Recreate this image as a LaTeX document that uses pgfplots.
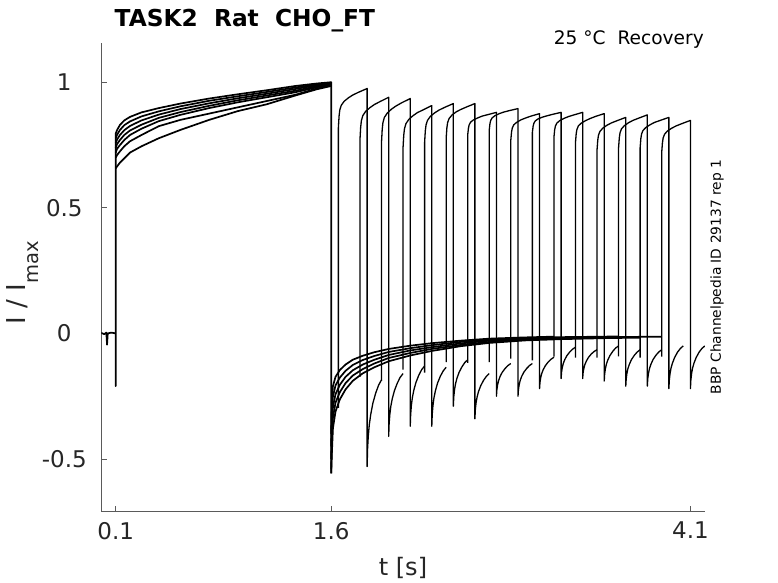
\documentclass[border=0pt]{standalone}
\usepackage{fontspec}
\setmainfont{DejaVu Sans}
\usepackage{pgfplots}
\pgfplotsset{compat=1.18}
\definecolor{axgray}{HTML}{5A5A5A}
\definecolor{txt}{HTML}{262626}
\begin{document}
\begin{tikzpicture}
\path[use as bounding box] (0,0) rectangle (778bp,583bp);
\begin{axis}[
 at={(101.3bp,71.3bp)}, anchor=south west,
 width=603.5bp, height=468.4bp, scale only axis,
 xmin=0, xmax=4.2, ymin=-0.71, ymax=1.155,
 axis x line*=bottom, axis y line*=left,
 axis line style={draw=axgray, line width=0.8bp},
 tick align=inside, major tick length=6bp,
 tick style={draw=axgray, line width=0.8bp},
 xtick={0.1,1.6,4.1}, xticklabels={0.1,1.6,4.1},
 ytick={-0.5,0,0.5,1}, yticklabels={-0.5,0,0.5,1},
 ticklabel style={font=\fontsize{23bp}{27bp}\selectfont, text=txt},
 xticklabel style={yshift=-7bp},
 yticklabel style={anchor=center, xshift=-37bp},
 tr/.style={black, line width=1.3bp, line join=round, mark=none},
 bd/.style={black, line width=1.7bp, line join=round, mark=none},
]
% ---- pulse 1 (conditioning) ----
\addplot[bd] coordinates {(0,0.002) (0.02,-0.003) (0.035,0.003) (0.04,-0.045) (0.045,0.0) (0.07,0.003) (0.1,0) (0.1,-0.21) (0.1,0.795) (0.11,0.81) (0.13,0.83) (0.16,0.848) (0.2,0.862) (0.28,0.88) (0.4,0.897) (0.55,0.915) (0.75,0.935) (0.95,0.952) (1.15,0.968) (1.35,0.985) (1.5,0.995) (1.6,1.0) (1.6,-0.557)};
\addplot[bd] coordinates {(0.1,0.776) (0.11,0.791) (0.13,0.81) (0.16,0.829) (0.2,0.844) (0.28,0.864) (0.4,0.884) (0.55,0.904) (0.75,0.926) (0.95,0.944) (1.15,0.961) (1.35,0.979) (1.5,0.991) (1.6,0.998)};
\addplot[bd] coordinates {(0.1,0.758) (0.11,0.772) (0.13,0.79) (0.16,0.809) (0.2,0.826) (0.28,0.848) (0.4,0.871) (0.55,0.893) (0.75,0.916) (0.95,0.936) (1.15,0.954) (1.35,0.973) (1.5,0.988) (1.6,0.997)};
\addplot[bd] coordinates {(0.1,0.739) (0.11,0.754) (0.13,0.77) (0.16,0.79) (0.2,0.808) (0.28,0.831) (0.4,0.858) (0.55,0.881) (0.75,0.906) (0.95,0.928) (1.15,0.947) (1.35,0.966) (1.5,0.984) (1.6,0.996)};
\addplot[bd] coordinates {(0.1,0.72) (0.11,0.735) (0.13,0.75) (0.16,0.77) (0.2,0.79) (0.28,0.815) (0.4,0.845) (0.55,0.87) (0.75,0.897) (0.95,0.92) (1.15,0.94) (1.35,0.96) (1.5,0.98) (1.6,0.995)};
\addplot[bd] coordinates {(0.1,0.70) (0.11,0.71) (0.13,0.725) (0.16,0.745) (0.2,0.765) (0.28,0.79) (0.4,0.825) (0.55,0.85) (0.75,0.875) (0.95,0.9) (1.15,0.925) (1.35,0.95) (1.5,0.975) (1.6,0.99)};
\addplot[bd] coordinates {(0.1,0.657) (0.11,0.665) (0.13,0.68) (0.16,0.697) (0.2,0.72) (0.28,0.745) (0.4,0.777) (0.55,0.81) (0.75,0.85) (0.95,0.885) (1.15,0.912) (1.35,0.947) (1.5,0.972) (1.6,0.985)};
% ---- tail after pulse 1 ----
\addplot[bd] coordinates {(1.6,-0.40) (1.604,-0.27) (1.612,-0.21) (1.63,-0.173) (1.66,-0.146) (1.7,-0.124) (1.75,-0.105) (1.82,-0.089) (1.9,-0.075) (2.0,-0.062) (2.15,-0.049) (2.3,-0.039) (2.5,-0.029) (2.7,-0.021) (2.95,-0.016) (3.15,-0.013)};
\addplot[bd] coordinates {(1.6,-0.45) (1.604,-0.324) (1.612,-0.252) (1.63,-0.207) (1.66,-0.176) (1.7,-0.149) (1.75,-0.126) (1.82,-0.106) (1.9,-0.09) (2.0,-0.074) (2.15,-0.059) (2.3,-0.047) (2.5,-0.034) (2.7,-0.025) (2.95,-0.019) (3.2,-0.015) (3.5,-0.013) (3.6,-0.012)};
\addplot[bd] coordinates {(1.6,-0.50) (1.604,-0.378) (1.612,-0.294) (1.63,-0.242) (1.66,-0.205) (1.7,-0.173) (1.75,-0.147) (1.82,-0.124) (1.9,-0.105) (2.0,-0.086) (2.15,-0.068) (2.3,-0.055) (2.5,-0.040) (2.7,-0.029) (2.95,-0.022) (3.2,-0.018) (3.5,-0.015) (3.9,-0.013)};
\addplot[bd] coordinates {(1.6,-0.54) (1.604,-0.432) (1.612,-0.336) (1.63,-0.276) (1.66,-0.234) (1.7,-0.198) (1.75,-0.168) (1.82,-0.142) (1.9,-0.12) (2.0,-0.098) (2.15,-0.078) (2.3,-0.062) (2.5,-0.046) (2.7,-0.034) (2.95,-0.025) (3.2,-0.020) (3.45,-0.017)};
\addplot[bd] coordinates {(1.6,-0.557) (1.604,-0.486) (1.612,-0.378) (1.63,-0.311) (1.66,-0.263) (1.7,-0.223) (1.75,-0.189) (1.82,-0.159) (1.9,-0.135) (2.0,-0.111) (2.15,-0.088) (2.3,-0.07) (2.5,-0.051) (2.7,-0.038) (2.95,-0.028) (3.2,-0.023) (3.5,-0.019) (3.75,-0.017)};
% ---- test pulses and tails ----
\addplot[tr] coordinates {(1.65,-0.297) (1.65,0.82) (1.655,0.867) (1.66,0.89) (1.67,0.908) (1.69,0.924) (1.72,0.938) (1.75,0.949) (1.79,0.96) (1.85,0.975) (1.85,-0.53) (1.853,-0.461) (1.858,-0.409) (1.865,-0.364) (1.875,-0.323) (1.89,-0.278) (1.91,-0.237) (1.93,-0.206) (1.95,-0.185)};
\addplot[tr] coordinates {(1.8,-0.173) (1.8,0.77) (1.805,0.821) (1.81,0.847) (1.82,0.867) (1.84,0.884) (1.87,0.899) (1.9,0.911) (1.94,0.923) (2.0,0.94) (2.0,-0.41) (2.003,-0.36) (2.008,-0.323) (2.015,-0.29) (2.025,-0.26) (2.04,-0.228) (2.06,-0.198) (2.08,-0.175) (2.1,-0.16)};
\addplot[tr] coordinates {(1.95,-0.189) (1.95,0.76) (1.955,0.813) (1.96,0.839) (1.97,0.86) (1.99,0.877) (2.02,0.893) (2.05,0.905) (2.09,0.918) (2.15,0.935) (2.15,-0.37) (2.153,-0.322) (2.158,-0.286) (2.165,-0.255) (2.175,-0.226) (2.19,-0.195) (2.21,-0.166) (2.23,-0.144) (2.25,-0.13)};
\addplot[tr] coordinates {(2.1,-0.144) (2.1,0.74) (2.105,0.79) (2.11,0.815) (2.12,0.835) (2.14,0.852) (2.17,0.867) (2.2,0.879) (2.24,0.89) (2.3,0.907) (2.3,-0.37) (2.303,-0.323) (2.308,-0.288) (2.315,-0.257) (2.325,-0.229) (2.34,-0.198) (2.36,-0.17) (2.38,-0.149) (2.4,-0.135)};
\addplot[tr] coordinates {(2.25,-0.156) (2.25,0.76) (2.255,0.807) (2.26,0.83) (2.27,0.848) (2.29,0.864) (2.32,0.878) (2.35,0.889) (2.39,0.90) (2.45,0.915) (2.45,-0.29) (2.453,-0.253) (2.458,-0.225) (2.465,-0.201) (2.475,-0.179) (2.49,-0.155) (2.51,-0.133) (2.53,-0.116) (2.55,-0.105)};
\addplot[tr] coordinates {(2.4,-0.114) (2.4,0.776) (2.405,0.818) (2.41,0.839) (2.42,0.855) (2.44,0.869) (2.47,0.882) (2.5,0.891) (2.54,0.901) (2.6,0.915) (2.6,-0.34) (2.603,-0.304) (2.608,-0.277) (2.615,-0.254) (2.625,-0.232) (2.64,-0.209) (2.66,-0.187) (2.68,-0.171) (2.7,-0.16)};
\addplot[tr] coordinates {(2.55,-0.117) (2.55,0.79) (2.555,0.817) (2.56,0.83) (2.57,0.841) (2.59,0.85) (2.62,0.858) (2.65,0.865) (2.69,0.871) (2.75,0.88) (2.75,-0.25) (2.753,-0.224) (2.758,-0.205) (2.765,-0.188) (2.775,-0.172) (2.79,-0.155) (2.81,-0.14) (2.83,-0.128) (2.85,-0.12)};
\addplot[tr] coordinates {(2.7,-0.114) (2.7,0.81) (2.705,0.836) (2.71,0.848) (2.72,0.858) (2.74,0.867) (2.77,0.875) (2.8,0.881) (2.84,0.887) (2.9,0.895) (2.9,-0.25) (2.903,-0.224) (2.908,-0.205) (2.915,-0.188) (2.925,-0.172) (2.94,-0.155) (2.96,-0.14) (2.98,-0.128) (3.0,-0.12)};
\addplot[tr] coordinates {(2.85,-0.101) (2.85,0.77) (2.855,0.802) (2.86,0.817) (2.87,0.83) (2.89,0.84) (2.92,0.85) (2.95,0.857) (2.99,0.865) (3.05,0.875) (3.05,-0.22) (3.053,-0.195) (3.058,-0.176) (3.065,-0.16) (3.075,-0.145) (3.09,-0.129) (3.11,-0.114) (3.13,-0.103) (3.15,-0.095)};
\addplot[tr] coordinates {(3.0,-0.107) (3.0,0.80) (3.005,0.824) (3.01,0.836) (3.02,0.846) (3.04,0.854) (3.07,0.861) (3.1,0.866) (3.14,0.872) (3.2,0.88) (3.2,-0.18) (3.203,-0.155) (3.208,-0.136) (3.215,-0.12) (3.225,-0.105) (3.24,-0.089) (3.26,-0.074) (3.28,-0.063) (3.3,-0.055)};
\addplot[tr] coordinates {(3.15,-0.093) (3.15,0.78) (3.155,0.81) (3.16,0.825) (3.17,0.837) (3.19,0.847) (3.22,0.856) (3.25,0.863) (3.29,0.87) (3.35,0.88) (3.35,-0.18) (3.353,-0.157) (3.358,-0.14) (3.365,-0.125) (3.375,-0.111) (3.39,-0.096) (3.41,-0.082) (3.43,-0.072) (3.45,-0.065)};
\addplot[tr] coordinates {(3.3,-0.097) (3.3,0.76) (3.305,0.795) (3.31,0.812) (3.32,0.826) (3.34,0.837) (3.37,0.847) (3.4,0.855) (3.44,0.864) (3.5,0.875) (3.5,-0.19) (3.503,-0.162) (3.508,-0.141) (3.515,-0.123) (3.525,-0.106) (3.54,-0.088) (3.56,-0.071) (3.58,-0.058) (3.6,-0.05)};
\addplot[tr] coordinates {(3.45,-0.097) (3.45,0.73) (3.455,0.769) (3.46,0.789) (3.47,0.804) (3.49,0.817) (3.52,0.829) (3.55,0.838) (3.59,0.847) (3.65,0.86) (3.65,-0.21) (3.653,-0.181) (3.658,-0.159) (3.665,-0.14) (3.675,-0.123) (3.69,-0.104) (3.71,-0.087) (3.73,-0.074) (3.75,-0.065)};
\addplot[tr] coordinates {(3.6,-0.092) (3.6,0.74) (3.605,0.779) (3.61,0.799) (3.62,0.814) (3.64,0.827) (3.67,0.839) (3.7,0.848) (3.74,0.857) (3.8,0.87) (3.8,-0.21) (3.803,-0.181) (3.808,-0.159) (3.815,-0.14) (3.825,-0.123) (3.84,-0.104) (3.86,-0.087) (3.88,-0.074) (3.9,-0.065)};
\addplot[tr] coordinates {(3.75,-0.097) (3.75,0.74) (3.755,0.776) (3.76,0.794) (3.77,0.808) (3.79,0.82) (3.82,0.831) (3.85,0.84) (3.89,0.848) (3.95,0.86) (3.95,-0.22) (3.953,-0.186) (3.958,-0.16) (3.965,-0.138) (3.975,-0.118) (3.99,-0.096) (4.01,-0.075) (4.03,-0.06) (4.05,-0.05)};
\addplot[tr] coordinates {(3.9,-0.093) (3.9,0.72) (3.905,0.758) (3.91,0.778) (3.92,0.793) (3.94,0.806) (3.97,0.817) (4.0,0.826) (4.04,0.835) (4.1,0.848) (4.1,-0.22) (4.103,-0.186) (4.108,-0.16) (4.115,-0.138) (4.125,-0.118) (4.14,-0.096) (4.16,-0.075) (4.18,-0.06) (4.2,-0.05)};
\end{axis}
\node[anchor=base west, inner sep=0, font=\bfseries\fontsize{23.3bp}{28bp}\selectfont] at (114.5bp,556.3bp) {TASK2\ \ Rat\ \ CHO\_FT};
\node[anchor=base east, inner sep=0, font=\fontsize{18.6bp}{22bp}\selectfont] at (704bp,538bp) {25 °C\ \ Recovery};
\node[rotate=90, inner sep=0, font=\fontsize{13.8bp}{16bp}\selectfont] at (717bp,306bp) {BBP Channelpedia ID 29137 rep 1};
\node[anchor=base, inner sep=0, text=txt, font=\fontsize{24bp}{29bp}\selectfont] at (403bp,8bp) {t [s]};
\node[rotate=90, anchor=base west, inner sep=0, text=txt, font=\fontsize{26bp}{30bp}\selectfont] at (25bp,258.5bp) {I / I\raisebox{-13.3bp}{\fontsize{19.5bp}{22bp}\selectfont max}};
\end{tikzpicture}
\end{document}
